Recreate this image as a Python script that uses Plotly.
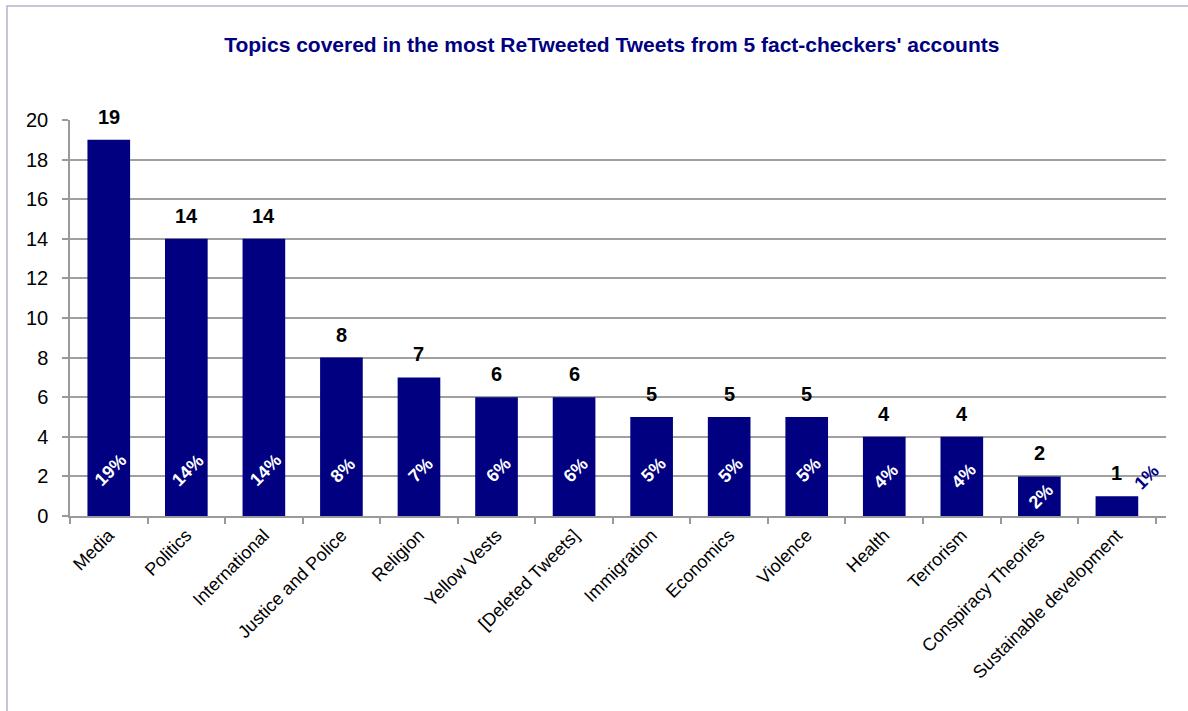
import plotly.graph_objects as go

# Topics and tweet counts
topics = ["Media", "Politics", "International", "Justice and Police", "Religion",
          "Yellow Vests", "[Deleted Tweets]", "Immigration", "Economics", "Violence",
          "Health", "Terrorism", "Conspiracy Theories", "Sustainable development"]
counts = [19, 14, 14, 8, 7, 6, 6, 5, 5, 5, 4, 4, 2, 1]
y_ticks = [0, 2, 4, 6, 8, 10, 12, 14, 16, 18, 20]

total = sum(counts)
shares = [round(c * 100 / total) for c in counts]

NAVY = "#000080"
FONT = "Liberation Sans, Arial, sans-serif"

fig = go.Figure()
fig.add_trace(go.Bar(
    x=topics, y=counts, marker_color=NAVY, marker_line_width=0, width=0.55,
    hoverinfo="x+y",
))

annotations = []
for t, c, s in zip(topics, counts, shares):
    # count above each bar
    annotations.append(dict(
        x=t, y=c, xref="x", yref="y", text=f"<b>{c}</b>", showarrow=False,
        yanchor="bottom", yshift=10, font=dict(family=FONT, size=20, color="black"),
    ))
    # share label, rotated, near the base of the bar
    if c >= 2:
        annotations.append(dict(
            x=t, y=min(c / 2, 2.3), xref="x", yref="y", text=f"<b>{s}%</b>",
            showarrow=False, textangle=-45, xshift=2,
            font=dict(family=FONT, size=18, color="white"),
        ))
    else:
        annotations.append(dict(
            x=t, y=c + 0.95, xref="x", yref="y", text=f"<b>{s}%</b>",
            showarrow=False, textangle=-45, xshift=30,
            font=dict(family=FONT, size=18, color=NAVY),
        ))

fig.update_layout(
    width=1188, height=711,
    margin=dict(l=70, r=22, t=120, b=195, autoexpand=False),
    paper_bgcolor="white", plot_bgcolor="white",
    showlegend=False,
    bargap=0.45,
    title=dict(
        text="<b>Topics covered in the most ReTweeted Tweets from 5 fact-checkers' accounts</b>",
        x=0.515, xanchor="center", y=0.937, yanchor="middle",
        font=dict(family=FONT, size=21, color=NAVY),
    ),
    annotations=annotations,
    shapes=[dict(
        type="rect", xref="paper", yref="paper",
        x0=-63 / 1096, x1=1.05, y0=-0.6, y1=1 + 114 / 396,
        line=dict(color="#b4b4cc", width=1.5), fillcolor="rgba(0,0,0,0)", layer="below",
    )],
)

fig.update_xaxes(
    type="category", showgrid=False, showline=True, linecolor="#9a9a9a", linewidth=1.5,
    ticks="outside", tickson="boundaries", ticklen=6, tickcolor="#9a9a9a", tickwidth=1.5,
    tickangle=-45, tickfont=dict(family=FONT, size=18, color="black"), automargin=False,
)
fig.update_yaxes(
    range=[0, 20], tickvals=y_ticks, showgrid=True, gridcolor="#a0a0a0", gridwidth=1.5,
    showline=True, linecolor="#9a9a9a", linewidth=1.5,
    ticks="outside", ticklen=6, tickcolor="#9a9a9a", tickwidth=1.5, ticklabelstandoff=10,
    tickfont=dict(family=FONT, size=20, color="black"), zeroline=False, automargin=False,
)

fig.write_html("out.html")
